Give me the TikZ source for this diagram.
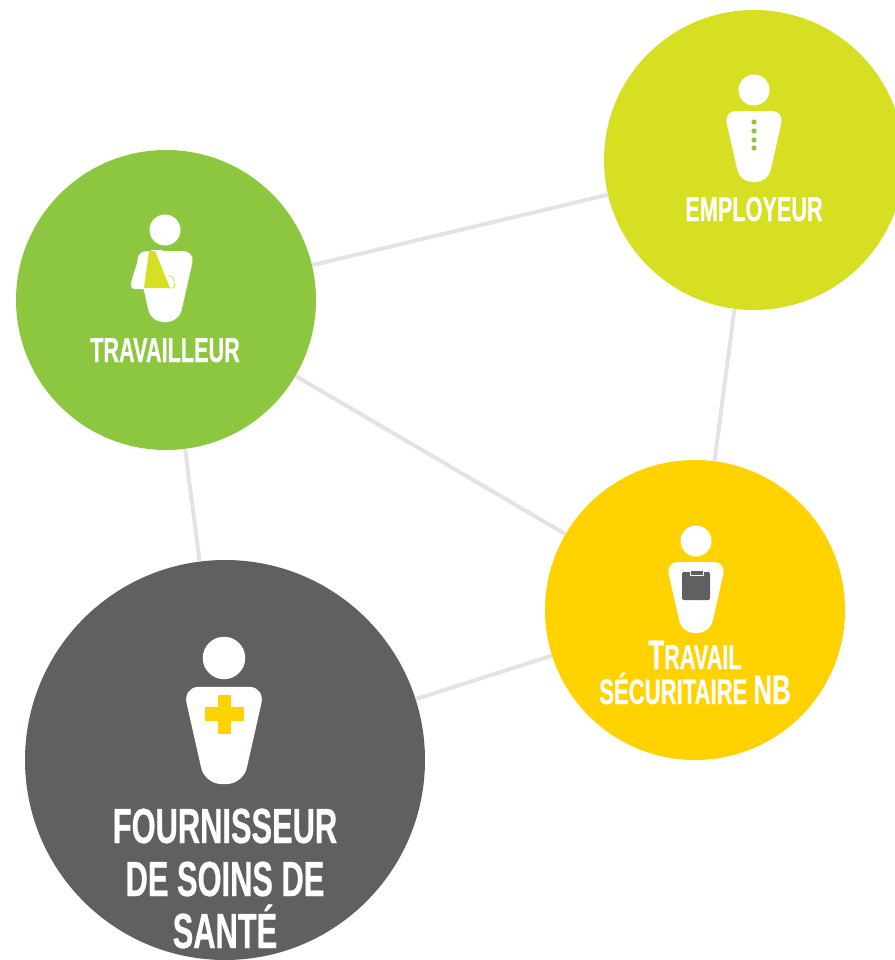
\documentclass[tikz,border=0pt]{standalone}
\usepackage{fontspec}
\setmainfont{Liberation Sans}[FakeStretch=0.625, BoldFeatures={FakeBold=0.5}]
\usetikzlibrary{positioning}

\definecolor{vert}{HTML}{8DC63F}
\definecolor{lime}{HTML}{D7DF23}
\definecolor{jaune}{HTML}{FFD200}
\definecolor{gris}{HTML}{5F6062}
\definecolor{lien}{HTML}{E3E3E3}

\tikzset{
    acteur/.style={circle, inner sep=0pt, minimum size=225pt},
    tete/.style={circle, fill=white, inner sep=0pt},
    etiquette/.style={text=white, anchor=base, font=\bfseries\fontsize{26}{28}\selectfont, inner sep=0pt},
    grande/.style={text=white, anchor=base, font=\bfseries\fontsize{37}{39}\selectfont, inner sep=0pt},
    lien/.style={draw=lien, line width=3pt}
}

% tete + corps : nom, x, y de la tete, echelle
\newcommand{\personne}[4]{
    \node[tete, minimum size=#4*23.25pt] (#1) at (#2,#3) {};
    \fill[white, rounded corners=#4*9pt, shift={(#2,#3)}, scale=#4]
        (-30,21) -- (30,21) -- (14,92) -- (-14,92) -- cycle;
}

\begin{document}
\begin{tikzpicture}[x=0.75pt, y=-0.75pt]
    \useasboundingbox (0,0) rectangle (895,960);
    \clip (0,0) rectangle (895,960);

    \node[acteur, fill=vert] (travailleur) at (166,300) {};
    \node[acteur, fill=lime] (employeur) at (754,160) {};
    \node[acteur, fill=jaune] (securitaire) at (695,610) {};
    \node[acteur, fill=gris, minimum size=300pt] (fournisseur) at (225,760) {};

    \path[lien]
    (travailleur) edge (employeur)
    (travailleur) edge (securitaire)
    (travailleur) edge (fournisseur)
    (employeur) edge (securitaire)
    (fournisseur) edge (securitaire);

    % travailleur
    \personne{teteT}{165}{230}{1}
    \fill[white, rounded corners=2.5pt] (152,250) -- (140,254) -- (131,282) -- (131,289) -- (160,289) -- (165,250) -- cycle;
    \fill[lime] (149,251) -- (155,251) -- (170,288) -- (144,288) -- cycle;
    \draw[lime, line width=0.5pt, rounded corners=2pt] (168,276) -- (173,276) -- (175,288) -- (170,288);
    \node[etiquette] (labelT) at (165,362) {TRAVAILLEUR};

    % employeur
    \personne{teteE}{754}{90}{1}
    \foreach \y in {122,131,140,148}
        \fill[vert] (754,\y) circle[radius=2.6];
    \node[etiquette] (labelE) at (754,221) {EMPLOYEUR};

    % securitaire
    \personne{teteS}{696}{541}{1}
    \fill[gris, rounded corners=1pt] (682,572) rectangle (710,600);
    \draw[white, fill=gris, line width=0.6pt] (690,570) rectangle (703,575);
    \node[etiquette] (labelS) at (695,669) {\fontsize{31}{31}\selectfont T\fontsize{26}{28}\selectfont RAVAIL};
    \node[etiquette] (labelNB) at (695,704) {\fontsize{26.5}{28}\selectfont SÉCURITAIRE \fontsize{31}{31}\selectfont NB};

    % fournisseur
    \personne{teteF}{224}{658}{1.37}
    \fill[jaune] (217.5,695) rectangle (231,734);
    \fill[jaune] (204.5,707) rectangle (243.5,721);
    \node[grande] (ligneA) at (225,843) {FOURNISSEUR};
    \node[grande] (ligneB) at (225,896) {DE SOINS DE};
    \node[grande] (ligneC) at (225,948) {SANTÉ};
\end{tikzpicture}
\end{document}
